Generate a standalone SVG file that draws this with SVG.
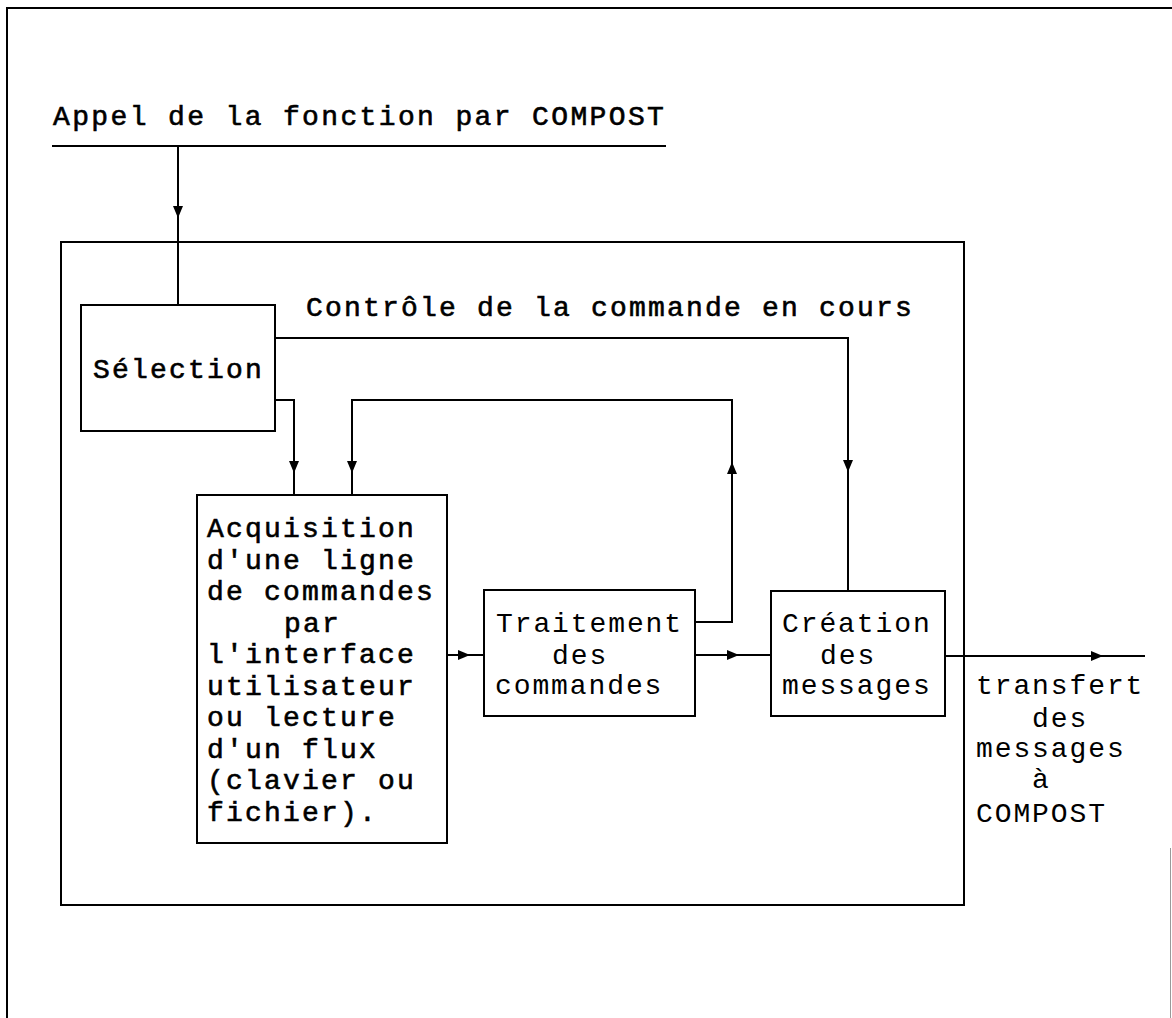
<svg xmlns="http://www.w3.org/2000/svg" width="1172" height="1018" viewBox="0 0 1172 1018">
<style>
.ln{fill:none;stroke:#000;stroke-width:2}
.box{fill:#fff;stroke:#000;stroke-width:2}
.t{font-family:"Liberation Mono","Courier New",monospace;font-size:28px;letter-spacing:2.2px;fill:#000}
.h{stroke:#000;stroke-width:0.6}
.n{letter-spacing:1.9px}
</style>
<defs>
<marker id="ah" viewBox="0 0 12 10" refX="12" refY="5" markerWidth="12" markerHeight="10" markerUnits="userSpaceOnUse" orient="auto">
<path d="M0,0 L12,5 L0,10 z" fill="#000"/>
</marker>
</defs>
<rect width="1172" height="1018" fill="#fff"/>
<g id="frame">
<path class="ln" d="M7,1018 V8 H1172"/>
<path d="M1170.5,848 V1018" stroke="#999" stroke-width="1" fill="none"/>
</g>
<g id="title">
<text class="t h" x="53" y="125" style="letter-spacing:2.36px">Appel de la fonction par COMPOST</text>
<path class="ln" d="M52,146 H666"/>
</g>
<g id="container">
<rect class="ln" x="61" y="242" width="903" height="663"/>
</g>
<g id="label-controle">
<text class="t h" x="306" y="316">Contrôle de la commande en cours</text>
</g>
<g id="connectors">
<path class="ln" d="M178,146 V218" marker-end="url(#ah)"/>
<path class="ln" d="M178,216 V305"/>
<path class="ln" d="M275,338 H848 V472" marker-end="url(#ah)"/>
<path class="ln" d="M848,470 V591"/>
<path class="ln" d="M275,400 H294 V473" marker-end="url(#ah)"/>
<path class="ln" d="M294,471 V495"/>
<path class="ln" d="M695,622 H732 V462" marker-end="url(#ah)"/>
<path class="ln" d="M732,464 V400 H352 V473" marker-end="url(#ah)"/>
<path class="ln" d="M352,471 V495"/>
<path class="ln" d="M447,655 H470" marker-end="url(#ah)"/>
<path class="ln" d="M468,655 H484"/>
<path class="ln" d="M695,655 H739" marker-end="url(#ah)"/>
<path class="ln" d="M737,655 H771"/>
<path class="ln" d="M945,656 H1103" marker-end="url(#ah)"/>
<path class="ln" d="M1101,656 H1145"/>
</g>
<g id="selection">
<rect class="box" x="81" y="305" width="194" height="126"/>
<text class="t h" x="93" y="378">Sélection</text>
</g>
<g id="acquisition">
<rect class="box" x="197" y="495" width="250" height="348"/>
<text class="t h" x="207" y="537">Acquisition</text>
<text class="t h" x="207" y="568.5">d'une ligne</text>
<text class="t h" x="207" y="600">de commandes</text>
<text class="t h" x="284" y="631.5">par</text>
<text class="t h" x="207" y="663">l'interface</text>
<text class="t h" x="207" y="694.5">utilisateur</text>
<text class="t h" x="207" y="726">ou lecture</text>
<text class="t h" x="207" y="757.5">d'un flux</text>
<text class="t h" x="207" y="789">(clavier ou</text>
<text class="t h" x="207" y="820.5">fichier).</text>
</g>
<g id="traitement">
<rect class="box" x="484" y="590" width="211" height="126"/>
<text class="t n" x="496" y="632">Traitement</text>
<text class="t n" x="552" y="664">des</text>
<text class="t n" x="495" y="694">commandes</text>
</g>
<g id="creation">
<rect class="box" x="771" y="591" width="174" height="125"/>
<text class="t n" x="782" y="632">Création</text>
<text class="t n" x="820" y="664">des</text>
<text class="t n" x="782" y="694">messages</text>
</g>
<g id="label-transfert">
<text class="t n" x="976" y="694">transfert</text>
<text class="t n" x="1032" y="727">des</text>
<text class="t n" x="976" y="757">messages</text>
<text class="t n" x="1032" y="788">à</text>
<text class="t n" x="976" y="822">COMPOST</text>
</g>
</svg>
